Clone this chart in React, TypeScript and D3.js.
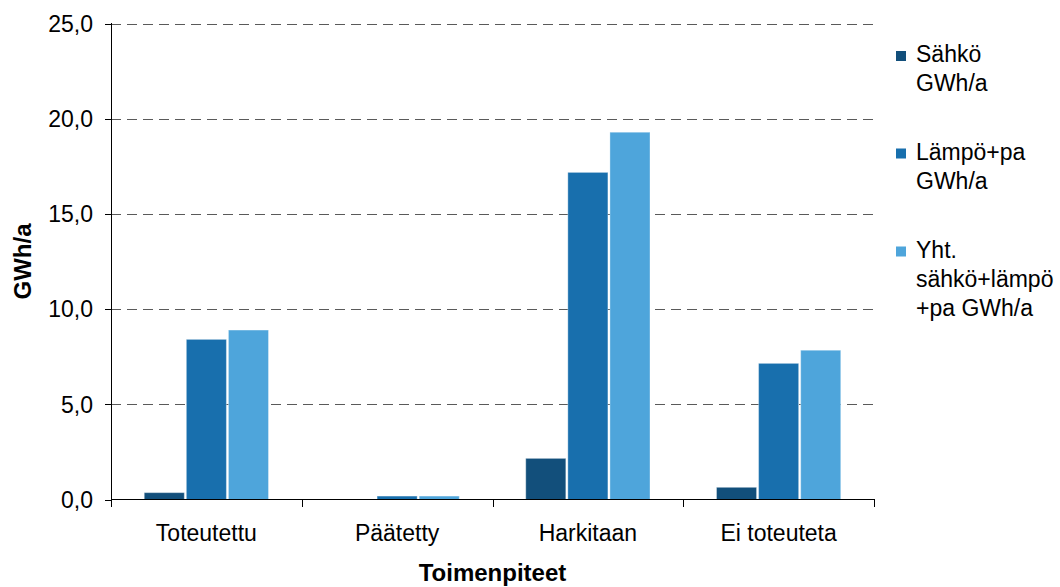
import React from "react";
import * as d3 from "d3";

const categories = ["Toteutettu", "Päätetty", "Harkitaan", "Ei toteuteta"];
const seriesNames = ["Sähkö GWh/a", "Lämpö+pa GWh/a", "Yht. sähkö+lämpö +pa GWh/a"];
const sahko = [0.36, 0.0, 2.16, 0.64];
const lampo = [8.41, 0.18, 17.18, 7.15];
const yht = [8.9, 0.18, 19.29, 7.84];
const yTicks = [0, 5, 10, 15, 20, 25];
const legendLines = [["Sähkö", "GWh/a"], ["Lämpö+pa", "GWh/a"], ["Yht.", "sähkö+lämpö", "+pa GWh/a"]];
const colors = ["#124f7b", "#186fad", "#4ea5db"];

const W = 1060;
const H = 587;
const FONT = "'Liberation Sans', Arial, sans-serif";

export default function App() {
  const series = [sahko, lampo, yht];
  const x = d3.scaleBand<string>().domain(categories).range([111, 874]).paddingInner(0).paddingOuter(0);
  const xs = d3
    .scaleBand<number>()
    .domain([0, 1, 2])
    .range([0, x.bandwidth()])
    .paddingInner(0.048)
    .paddingOuter(0.79);
  const y = d3.scaleLinear().domain([0, 25]).range([499.5, 23.5]);
  const fmt = (v: number) => d3.format(".1f")(v).replace(".", ",");
  const boundaries = [...categories.map((c) => x(c) as number), 874];
  const legendY = [62, 159.5, 257.5];
  const fs = 23;

  return (
    <svg
      width={W}
      height={H}
      style={{ position: "absolute", left: 0, top: 0, background: "#fff" }}
      fontFamily={FONT}
    >
      {yTicks.filter((t) => t > 0).map((t) => (
        <line
          key={"g" + t}
          x1={111}
          x2={875}
          y1={Math.round(y(t)) + 0.5}
          y2={Math.round(y(t)) + 0.5}
          stroke="#5a5a5a"
          strokeWidth={1}
          strokeDasharray="10,6"
        />
      ))}
      {categories.map((c, ci) =>
        series.map((s, si) => {
          const v = s[ci];
          if (v <= 0) return null;
          const bx = (x(c) as number) + (xs(si) as number);
          const top = y(v);
          return (
            <rect
              key={c + si}
              x={bx}
              y={top}
              width={xs.bandwidth()}
              height={y(0) - top}
              fill={colors[si]}
              stroke="rgba(255,255,255,0.35)"
              strokeWidth={1}
            />
          );
        })
      )}
      <line x1={111.5} x2={111.5} y1={23} y2={506} stroke="#000" strokeWidth={1} />
      {yTicks.map((t) => (
        <g key={"t" + t}>
          <line x1={105} x2={111} y1={Math.round(y(t)) + 0.5} y2={Math.round(y(t)) + 0.5} stroke="#000" />
          <text x={93} y={y(t)} dy="0.36em" textAnchor="end" fontSize={fs} fill="#000">
            {fmt(t)}
          </text>
        </g>
      ))}
      <line x1={111} x2={875} y1={499.5} y2={499.5} stroke="#000" strokeWidth={1} />
      {boundaries.map((b, i) => (
        <line key={"xb" + i} x1={Math.round(b) + 0.5} x2={Math.round(b) + 0.5} y1={499.5} y2={507} stroke="#000" />
      ))}
      {categories.map((c) => (
        <text
          key={"xl" + c}
          x={(x(c) as number) + x.bandwidth() / 2}
          y={541}
          textAnchor="middle"
          fontSize={fs}
          fill="#000"
        >
          {c}
        </text>
      ))}
      <text x={492.5} y={580.5} textAnchor="middle" fontSize={24} fontWeight="bold" fill="#000">
        Toimenpiteet
      </text>
      <text
        transform={`translate(31,261.5) rotate(-90)`}
        textAnchor="middle"
        fontSize={24}
        fontWeight="bold"
        fill="#000"
      >
        GWh/a
      </text>
      {seriesNames.map((n, i) => (
        <g key={"lg" + i}>
          <rect x={896} y={legendY[i] - 11} width={10} height={10} fill={colors[i]} />
          {legendLines[i].map((ln, li) => (
            <text key={li} x={916} y={legendY[i] + li * 29} fontSize={fs} fill="#000">
              {ln}
            </text>
          ))}
        </g>
      ))}
    </svg>
  );
}
